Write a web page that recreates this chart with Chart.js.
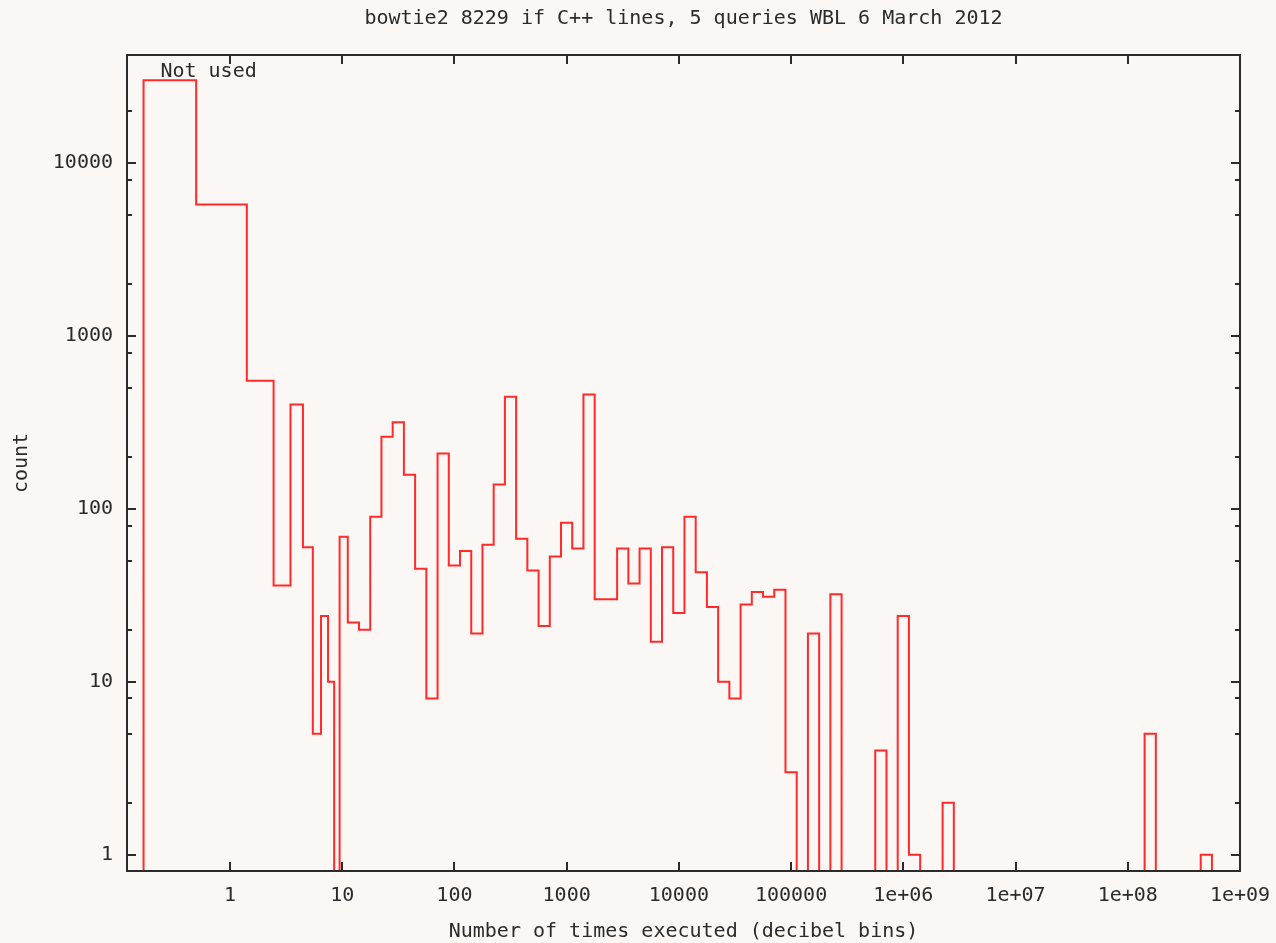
<!DOCTYPE html>
<html>
<head>
<meta charset="utf-8">
<title>bowtie2 if C++ lines</title>
<script src="https://cdn.jsdelivr.net/npm/chart.js@4.4.1/dist/chart.umd.min.js"></script>
<style>
  html, body { margin: 0; padding: 0; background: #fbf7f4; }
  #wrap { width: 1276px; height: 943px; }
</style>
</head>
<body>
<div id="wrap"><canvas id="hist" width="1276" height="943"></canvas></div>
<script>
// lines never executed get their own bin, left of 1
const notUsedCount = 30000;
const notUsedRange = [0.17, 0.5];

// 1..9 executions are exact integer bins
const smallExecs = [1, 2, 3, 4, 5, 6, 7, 8, 9];
const smallCounts = [5750, 550, 36, 400, 60, 5, 24, 10, 0];

// from 10 dB upward: one bin per decibel
const firstDecibel = 10;
const decibelCounts = [
    69, 22, 20, 90, 261, 316, 157, 45, 8, 209,   // 10-19 dB
    47, 57, 19, 62, 138, 444, 67, 44, 21, 53,    // 20-29
    83, 59, 458, 30, 30, 59, 37, 59, 17, 60,     // 30-39
    25, 90, 43, 27, 10, 8, 28, 33, 31, 34,       // 40-49
    3, 0, 19, 0, 32, 0, 0, 0, 4, 0,              // 50-59
    24, 1, 0, 0, 2, 0, 0, 0, 0, 0,               // 60-69
    0, 0, 0, 0, 0, 0, 0, 0, 0, 0,                // 70-79
    0, 0, 5, 0, 0, 0, 0, 1                       // 80-87
];

const xTickValues = [1, 10, 100, 1000, 10000, 100000, 1e6, 1e7, 1e8, 1e9];
const xTickLabels = ["1", "10", "100", "1000", "10000", "100000", "1e+06", "1e+07", "1e+08", "1e+09"];
const yTickValues = [1, 10, 100, 1000, 10000];
const yTickLabels = ["1", "10", "100", "1000", "10000"];
const yMinorTicks = [2, 5, 8, 20, 50, 80, 200, 500, 800, 2000, 5000, 8000, 20000];

const titleText = "bowtie2 8229 if C++ lines, 5 queries WBL 6 March 2012";
const notUsedLabel = { text: "Not used", x: 0.24, y: 33500 };

const ink = "#2b2b2b";
const paper = "#fbf7f4";
const mono = "'DejaVu Sans Mono', 'Liberation Mono', monospace";

// bin centres, then step edges half way (in log) between neighbouring centres
const centres = smallExecs.concat(decibelCounts.map((_, i) => Math.pow(10, (firstDecibel + i) / 10)));
const counts = smallCounts.concat(decibelCounts);

const bins = [{ lo: notUsedRange[0], hi: notUsedRange[1], n: notUsedCount }];
for (let i = 0; i < centres.length; i++) {
    const lo = i === 0 ? notUsedRange[1] : Math.sqrt(centres[i - 1] * centres[i]);
    const hi = i === centres.length - 1
        ? centres[i] * Math.sqrt(centres[i] / centres[i - 1])
        : Math.sqrt(centres[i] * centres[i + 1]);
    bins.push({ lo: lo, hi: hi, n: counts[i] });
}

// empty bins fall below the axis and get clipped, like gnuplot's histeps
const floor = 1e-3;
const steps = [{ x: bins[0].lo, y: floor }];
bins.forEach((b) => steps.push({ x: b.lo, y: b.n > 0 ? b.n : floor }));
steps.push({ x: bins[bins.length - 1].hi, y: floor });

const frame = {
    id: "frame",
    beforeDraw(chart) {
        const ctx = chart.ctx;
        ctx.save();
        ctx.fillStyle = paper;
        ctx.fillRect(0, 0, chart.width, chart.height);
        ctx.restore();
    },
    afterDatasetsDraw(chart) {
        const { ctx, scales } = chart;
        ctx.save();
        ctx.fillStyle = ink;
        ctx.font = "20px " + mono;
        ctx.textAlign = "left";
        ctx.textBaseline = "middle";
        ctx.fillText(notUsedLabel.text,
            scales.x.getPixelForValue(notUsedLabel.x),
            scales.y.getPixelForValue(notUsedLabel.y));
        ctx.restore();
    },
    afterDraw(chart) {
        const { ctx, chartArea: a, scales } = chart;
        ctx.save();
        ctx.strokeStyle = ink;
        ctx.lineWidth = 2;
        ctx.strokeRect(a.left, a.top, a.right - a.left, a.bottom - a.top);
        ctx.beginPath();
        xTickValues.forEach((v) => {
            const px = Math.round(scales.x.getPixelForValue(v));
            ctx.moveTo(px, a.bottom);
            ctx.lineTo(px, a.bottom - 9);
            ctx.moveTo(px, a.top);
            ctx.lineTo(px, a.top + 9);
        });
        yTickValues.forEach((v) => {
            const py = Math.round(scales.y.getPixelForValue(v));
            ctx.moveTo(a.left, py);
            ctx.lineTo(a.left + 9, py);
            ctx.moveTo(a.right, py);
            ctx.lineTo(a.right - 9, py);
        });
        yMinorTicks.forEach((v) => {
            const py = Math.round(scales.y.getPixelForValue(v));
            ctx.moveTo(a.left, py);
            ctx.lineTo(a.left + 5, py);
            ctx.moveTo(a.right, py);
            ctx.lineTo(a.right - 5, py);
        });
        ctx.stroke();
        ctx.restore();
    }
};

new Chart(document.getElementById("hist"), {
    type: "line",
    data: {
        datasets: [
            {
                label: "count",
                data: steps,
                stepped: "before",
                borderColor: "#ff2a2a",
                borderWidth: 2,
                pointRadius: 0,
                fill: false,
                tension: 0,
            },
        ],
    },
    options: {
        responsive: false,
        animation: false,
        devicePixelRatio: 1,
        layout: { padding: { left: 0, right: 36, top: 0, bottom: 0 } },
        plugins: {
            legend: { display: false },
            tooltip: { enabled: false },
            title: {
                display: true,
                text: titleText,
                fullSize: false,
                color: ink,
                font: { family: mono, size: 20, weight: "normal" },
                padding: { top: 7, bottom: 24 },
            },
        },
        scales: {
            x: {
                type: "logarithmic",
                min: 0.121,
                max: 1e9,
                grid: { display: false, drawTicks: false },
                border: { display: false },
                afterBuildTicks: (s) => {
                    s.ticks = xTickValues.map((v) => ({ value: v }));
                },
                afterFit: (s) => {
                    s.height = 72;
                    s.paddingLeft = 0;
                    s.paddingRight = 0;
                },
                ticks: {
                    autoSkip: false,
                    maxRotation: 0,
                    padding: 13,
                    color: ink,
                    font: { family: mono, size: 20 },
                    callback: (v, i) => xTickLabels[i],
                },
                title: {
                    display: true,
                    text: "Number of times executed (decibel bins)",
                    color: ink,
                    font: { family: mono, size: 20, lineHeight: 1 },
                    padding: { top: 0, bottom: 1 },
                },
            },
            y: {
                type: "logarithmic",
                min: 0.805,
                max: 42000,
                grid: { display: false, drawTicks: false },
                border: { display: false },
                afterBuildTicks: (s) => {
                    s.ticks = yTickValues.map((v) => ({ value: v }));
                },
                afterFit: (s) => {
                    s.width = 127;
                    s.paddingTop = 0;
                    s.paddingBottom = 0;
                },
                ticks: {
                    autoSkip: false,
                    padding: 14,
                    color: ink,
                    font: { family: mono, size: 20 },
                    callback: (v, i) => yTickLabels[i],
                },
                title: {
                    display: true,
                    text: "count",
                    color: ink,
                    font: { family: mono, size: 20, lineHeight: 1 },
                    padding: { top: 12, bottom: 0 },
                },
            },
        },
    },
    plugins: [frame],
});
</script>
</body>
</html>
